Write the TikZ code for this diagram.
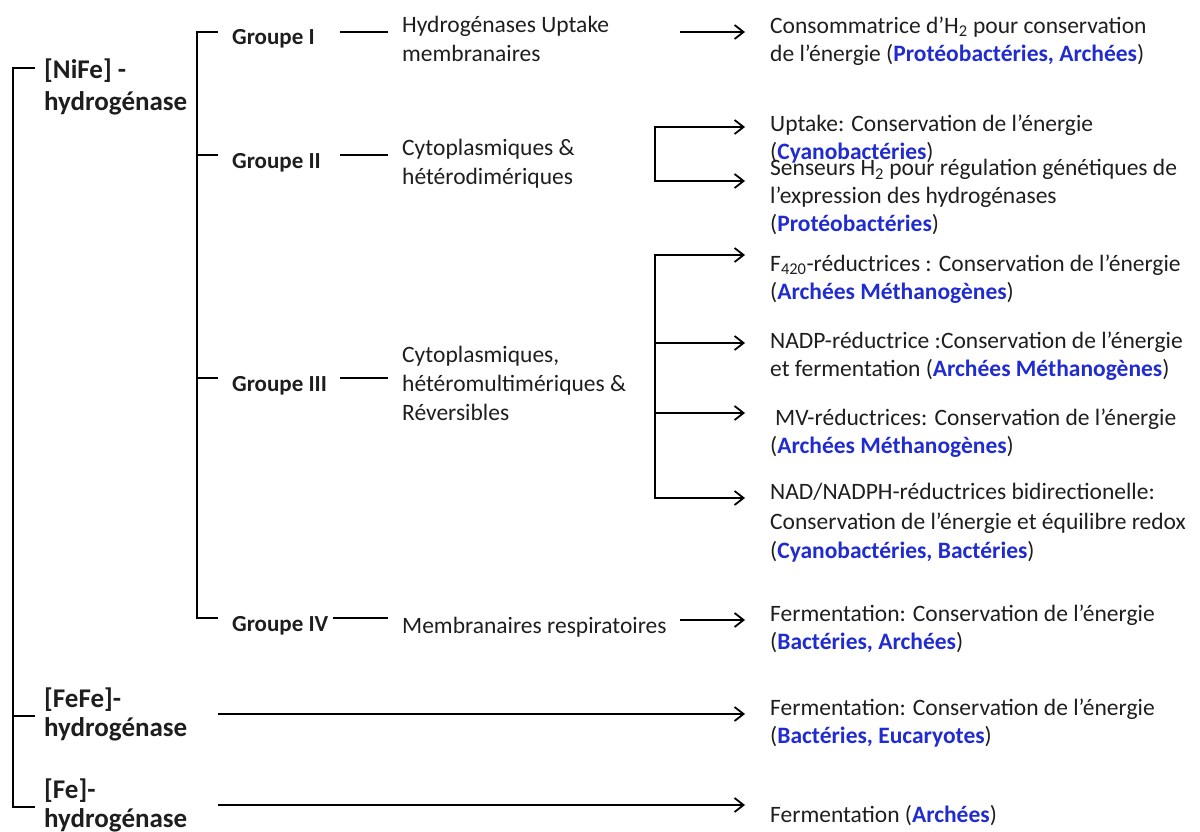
\documentclass[tikz,border=0pt]{standalone}
\usepackage{fontspec}
\setmainfont{Carlito}
\usetikzlibrary{arrows.meta}
\definecolor{taxblue}{RGB}{32,44,208}
\definecolor{texte}{RGB}{30,30,30}
\newcommand{\taxon}[1]{\textcolor{taxblue}{\textbf{#1}}}

\begin{document}
\begin{tikzpicture}[x=1pt,y=1pt,text=texte,
    line/.style={line width=2.1pt},
    arr/.style={line width=2.1pt,-{Straight Barb[length=9pt,width=14pt,line width=1.8pt]}},
    arr2/.style={line width=2.1pt,{Straight Barb[length=9pt,width=14pt,line width=1.8pt]}-{Straight Barb[length=9pt,width=14pt,line width=1.8pt]}},
    famille/.style={font=\fontsize{27}{#1}\selectfont\bfseries,align=left,anchor=north west,inner sep=0pt,execute at begin node=\strut},
    famille/.default=30,
    groupe/.style={font=\fontsize{23}{28}\selectfont\bfseries,anchor=base west,inner sep=0pt},
    descr/.style={font=\fontsize{23.5}{29}\selectfont,align=left,anchor=north west,inner sep=0pt,execute at begin node=\strut},
    role/.style={font=\fontsize{23.5}{28}\selectfont,align=left,anchor=north west,inner sep=0pt,execute at begin node=\strut},
  ]
  \useasboundingbox (0,0) rectangle (1200,-832);

  % familles
  \node[famille=32] (nife) at (44,-59) {[NiFe] -\\hydrogénase};
  \node[famille=29] (fefe) at (44,-688) {[FeFe]-\\hydrogénase};
  \node[famille=37] (fe) at (44,-779) {[Fe]-\\[-8pt]hydrogénase};

  % groupes
  \node[groupe] (g1) at (232,-45) {Groupe I};
  \node[groupe] (g2) at (232,-168) {Groupe II};
  \node[groupe] (g3) at (232,-391) {Groupe III};
  \node[groupe] (g4) at (232,-631) {Groupe IV};

  \node[descr] (d1) at (402,-15.5) {Hydrogénases Uptake\\membranaires};
  \node[descr] (d2) at (402,-138.5) {Cytoplasmiques \&\\hétérodimériques};
  \node[descr] (d3) at (402,-345.5) {Cytoplasmiques,\\hétéromultimériques \&\\Réversibles};
  \node[descr] (d4) at (402,-612.5) {Membranaires respiratoires};

  % roles
  \node[role] (r1) at (770,-16.4) {Consommatrice d’H\textsubscript{2} pour conservation\\de l’énergie (\taxon{Protéobactéries, Archées})};
  \node[role] (r2) at (770,-114.4) {Uptake: Conservation de l’énergie\\(\taxon{Cyanobactéries})};
  \node[role] (r3) at (770,-159.4) {Senseurs H\textsubscript{2} pour régulation génétiques de\\l’expression des hydrogénases\\(\taxon{Protéobactéries})};
  \node[role] (r4) at (770,-254.4) {F\textsubscript{420}-réductrices : Conservation de l’énergie\\(\taxon{Archées Méthanogènes})};
  \node[role] (r5) at (770,-331.4) {NADP-réductrice :Conservation de l’énergie\\et fermentation (\taxon{Archées Méthanogènes})};
  \node[role] (r6) at (770,-408.4) {\hspace{5pt}MV-réductrices: Conservation de l’énergie\\(\taxon{Archées Méthanogènes})};
  \node[role] (r7) at (770,-483.4) {NAD/NADPH-réductrices bidirectionelle:\\[2pt]Conservation de l’énergie et équilibre redox\\[1pt](\taxon{Cyanobactéries, Bactéries})};
  \node[role] (r8) at (770,-604.4) {Fermentation: Conservation de l’énergie\\(\taxon{Bactéries, Archées})};
  \node[role] (r9) at (770,-698.4) {Fermentation: Conservation de l’énergie\\(\taxon{Bactéries, Eucaryotes})};
  \node[role] (r10) at (770,-802.4) {Fermentation (\taxon{Archées})};

  % colonnes
  \coordinate (spA) at (13,0);
  \coordinate (spB) at (197,0);
  \coordinate (fork) at (655,0);
  \coordinate (colIn) at (680,0);
  \coordinate (colA) at (218,0);
  \coordinate (dashR) at (388,0);

  \coordinate (tip1) at (745,-32);
  \coordinate (tip2) at (745,-127);
  \coordinate (tip3) at (745,-181);
  \coordinate (tip4) at (745,-255);
  \coordinate (tip5) at (745,-343);
  \coordinate (tip6) at (745,-413);
  \coordinate (tip7) at (745,-498);
  \coordinate (tip8) at (745,-620);
  \coordinate (tip9) at (745,-714);
  \coordinate (tip10) at (745,-805);

  % accolade gauche
  \coordinate (kNiFe) at ([xshift=-9pt,yshift=-9pt]nife.north west);
  \coordinate (kFeFe) at ([xshift=-9pt,yshift=-28pt]fefe.north west);
  \coordinate (kFe) at ([xshift=-9pt,yshift=-28pt]fe.north west);
  \draw[line] (kNiFe) -| (kFe -| spA) -- (kFe);
  \draw[line] (kFeFe -| spA) -- (kFeFe);

  % accolade des groupes
  \foreach \g in {1,...,4}
    \coordinate (k\g) at ([xshift=-14pt,yshift=13pt]g\g.base west);
  \draw[line] (k1) -| (k4 -| spB) -- (k4);
  \draw[line] (k2 -| spB) -- (k2);
  \draw[line] (k3 -| spB) -- (k3);
  \foreach \g/\x in {1/340,2/340,3/340,4/333}
    \draw[line] (k\g -| \x,0) -- (k\g -| dashR);

  % fleches
  \draw[arr] (tip1 -| colIn) -- (tip1);
  \draw[arr2] (tip2) -| (tip3 -| fork) -- (tip3);
  \draw[arr2] (tip4) -| (tip7 -| fork) -- (tip7);
  \draw[arr] (tip5 -| fork) -- (tip5);
  \draw[arr] (tip6 -| fork) -- (tip6);
  \draw[arr] (tip8 -| colIn) -- (tip8);
  \draw[arr] (tip9 -| colA) -- (tip9);
  \draw[arr] (tip10 -| colA) -- (tip10);
\end{tikzpicture}
\end{document}
